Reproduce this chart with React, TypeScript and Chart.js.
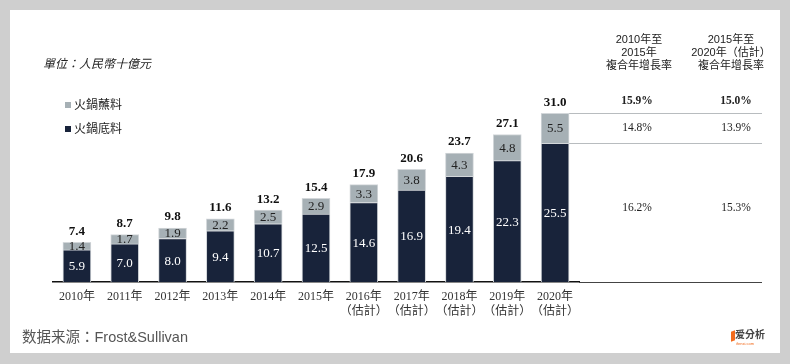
import React, { useEffect, useRef } from "react";
import { Chart, registerables } from "chart.js";

Chart.register(...registerables);

const years = ["2010年", "2011年", "2012年", "2013年", "2014年", "2015年", "2016年", "2017年", "2018年", "2019年", "2020年"];
const estimated = [false, false, false, false, false, false, true, true, true, true, true];
const baseValues = [5.9, 7.0, 8.0, 9.4, 10.7, 12.5, 14.6, 16.9, 19.4, 22.3, 25.5];
const sauceValues = [1.4, 1.7, 1.9, 2.2, 2.5, 2.9, 3.3, 3.8, 4.3, 4.8, 5.5];
const totals = [7.4, 8.7, 9.8, 11.6, 13.2, 15.4, 17.9, 20.6, 23.7, 27.1, 31.0];
const seriesNames = ["火鍋底料", "火鍋蘸料"];
const cagrHistorical = ["15.9%", "14.8%", "16.2%"]; // total, sauce, base
const cagrForecast = ["15.0%", "13.9%", "15.3%"];
const headerHistorical = ["2010年至", "2015年", "複合年增長率"];
const headerForecast = ["2015年至", "2020年（估計）", "複合年增長率"];
const unitLabel = "單位：人民幣十億元";
const sourceLabel = "数据来源：Frost&Sullivan";

const DARK = "#18233a";
const GRAY = "#a6b0b5";
const SERIF = '"Liberation Serif", "Noto Sans CJK TC", serif';
const SANS = '"Liberation Sans", "Noto Sans CJK TC", sans-serif';

const COL1 = 637;
const COL2 = 736;
const TABLE_RIGHT = 762;

const labelPlugin = {
  id: "labels",
  afterDatasetsDraw(chart: any) {
    const ctx = chart.ctx;
    const baseMeta = chart.getDatasetMeta(0);
    const sauceMeta = chart.getDatasetMeta(1);
    ctx.save();
    ctx.textAlign = "center";
    ctx.textBaseline = "middle";
    for (let i = 0; i < totals.length; i++) {
      const b = baseMeta.data[i];
      const s = sauceMeta.data[i];
      ctx.font = `13px ${SERIF}`;
      ctx.fillStyle = "#ffffff";
      ctx.fillText(baseValues[i].toFixed(1), b.x, (b.y + b.base) / 2 + 1);
      ctx.fillStyle = "#222";
      ctx.fillText(sauceValues[i].toFixed(1), s.x, (s.y + s.base) / 2 + 0.5);
      ctx.font = `bold 13px ${SERIF}`;
      ctx.fillStyle = "#111";
      ctx.fillText(totals[i].toFixed(1), s.x, s.y - 11);
    }
    // table
    const n = totals.length - 1;
    const lb = baseMeta.data[n];
    const ls = sauceMeta.data[n];
    const right = ls.x + ls.width / 2;
    ctx.strokeStyle = "#b8bcbf";
    ctx.lineWidth = 1;
    ctx.beginPath();
    ctx.moveTo(right, Math.round(ls.y) + 0.5);
    ctx.lineTo(TABLE_RIGHT, Math.round(ls.y) + 0.5);
    ctx.moveTo(right, Math.round(lb.y) + 0.5);
    ctx.lineTo(TABLE_RIGHT, Math.round(lb.y) + 0.5);
    ctx.stroke();
    ctx.strokeStyle = "#444";
    ctx.beginPath();
    ctx.moveTo(chart.chartArea.right, chart.chartArea.bottom + 0.5);
    ctx.lineTo(TABLE_RIGHT, chart.chartArea.bottom + 0.5);
    ctx.stroke();

    const rows = [ls.y - 12, (ls.y + ls.base) / 2, (lb.y + lb.base) / 2 - 5];
    for (let r = 0; r < 3; r++) {
      ctx.font = r === 0 ? `bold 11.5px ${SERIF}` : `11.5px ${SERIF}`;
      ctx.fillStyle = "#222";
      ctx.fillText(cagrHistorical[r], COL1, rows[r]);
      ctx.fillText(cagrForecast[r], COL2, rows[r]);
    }
    ctx.restore();
  },
};

function CenterLines({ lines, cx, top }: { lines: string[]; cx: number; top: number }) {
  return (
    <div
      style={{
        position: "absolute",
        left: cx - 70,
        top,
        width: 140,
        textAlign: "center",
        font: `11px ${SANS}`,
        lineHeight: "13px",
        color: "#222",
      }}
    >
      {lines.map((l, i) => (
        <div key={i}>{l}</div>
      ))}
    </div>
  );
}

export default function App() {
  const ref = useRef<HTMLCanvasElement | null>(null);

  useEffect(() => {
    if (!ref.current) return;
    const labels = years.map((y, i) => (estimated[i] ? [y, "（估計）"] : y));
    const chart = new Chart(ref.current, {
      type: "bar",
      data: {
        labels,
        datasets: [
          {
            label: seriesNames[0],
            data: baseValues,
            backgroundColor: DARK,
            borderColor: "#d3d7da",
            borderWidth: 1,
            barThickness: 28,
          },
          {
            label: seriesNames[1],
            data: sauceValues,
            backgroundColor: GRAY,
            borderColor: "#d3d7da",
            borderWidth: 1,
            barThickness: 28,
          },
        ],
      },
      options: {
        animation: false,
        responsive: false,
        maintainAspectRatio: false,
        layout: { padding: { left: 53, right: 211, top: 97, bottom: 42 } },
        plugins: { legend: { display: false }, tooltip: { enabled: false } },
        scales: {
          x: {
            stacked: true,
            grid: { display: false, drawTicks: false },
            border: { color: "#111", width: 1.5 },
            ticks: {
              color: "#333",
              font: { family: SERIF, size: 12, lineHeight: 1.2 },
              padding: 8,
              maxRotation: 0,
              autoSkip: false,
            },
            afterFit: (scale: any) => {
              scale.height = 40;
            },
          },
          y: { stacked: true, display: false, min: 0, max: 34 },
        },
      },
      plugins: [labelPlugin],
    });
    return () => chart.destroy();
  }, []);

  return (
    <div style={{ position: "fixed", left: 0, top: 0, width: 790, height: 364, background: "#cfcfcf", overflow: "hidden" }}>
      <div style={{ position: "absolute", left: 10, top: 10, width: 770, height: 343, background: "#fff" }} />
      <canvas ref={ref} width={790} height={364} style={{ position: "absolute", left: 0, top: 0, width: 790, height: 364 }} />
      <div style={{ position: "absolute", left: 43, top: 54, font: `italic 12px ${SERIF}`, color: "#222", whiteSpace: "nowrap" }}>{unitLabel}</div>
      {[1, 0].map((si, k) => (
        <div key={si} style={{ position: "absolute", left: 65, top: 98 + k * 24, display: "flex", alignItems: "center", font: `12px ${SERIF}`, color: "#222", lineHeight: "14px" }}>
          <span style={{ display: "inline-block", width: 6, height: 6, background: si === 0 ? DARK : GRAY, marginRight: 3 }} />
          <span>{seriesNames[si]}</span>
        </div>
      ))}
      <CenterLines lines={headerHistorical} cx={639} top={33} />
      <CenterLines lines={headerForecast} cx={731} top={33} />
      <div style={{ position: "absolute", left: 22, top: 325, font: `14.5px ${SANS}`, color: "#555", whiteSpace: "nowrap" }}>{sourceLabel}</div>
      <div style={{ position: "absolute", left: 731, top: 331, width: 4, height: 10, background: "#f26b1d", transform: "skewY(-20deg)" }} />
      <div style={{ position: "absolute", left: 735, top: 329, font: `bold 10px ${SANS}`, color: "#444", whiteSpace: "nowrap", lineHeight: "12px" }}>爱分析</div>
      <div style={{ position: "absolute", left: 736, top: 341, font: `4px ${SANS}`, color: "#f26b1d", whiteSpace: "nowrap", lineHeight: "5px" }}>ifenxi.com</div>
    </div>
  );
}
